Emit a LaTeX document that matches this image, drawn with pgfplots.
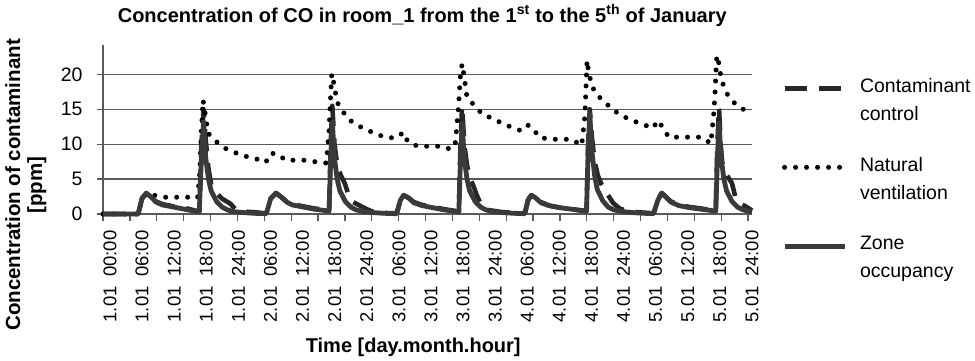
\documentclass[border=0pt]{standalone}
\usepackage{fontspec}
\setmainfont{Liberation Sans}
\usepackage{pgfplots}
\pgfplotsset{compat=1.18}
\definecolor{gridc}{HTML}{5A5A5A}
\definecolor{zonec}{HTML}{3A3A3A}
\definecolor{ctrlc}{HTML}{262626}
\newcommand{\tl}[2]{#1\hspace{9.5pt}#2}
\begin{document}
\begin{tikzpicture}
\useasboundingbox (0pt,0pt) rectangle (975pt,360pt);
\begin{axis}[
  at={(103pt,146pt)}, anchor=south west,
  scale only axis, width=649pt, height=169pt,
  xmin=0, xmax=120, ymin=0, ymax=24.2,
  enlargelimits=false, clip=false,
  axis lines=left, axis line style={gridc, line width=1.3pt, -},
  ytick={0,5,10,15,20}, ymajorgrids, grid style={gridc, line width=1.3pt},
  tick align=outside, major tick length=6pt, minor tick length=7pt,
  tick style={gridc, line width=1.3pt},
  major x tick style={draw=none},
  xtick={1.3,7.23,13.17,19.10,25.04,30.97,36.90,42.84,48.77,54.71,60.64,66.57,72.51,78.44,84.38,90.31,96.24,102.18,108.11,114.05,119.98},
  xticklabels={{\tl{1.01}{00:00}},{\tl{1.01}{06:00}},{\tl{1.01}{12:00}},{\tl{1.01}{18:00}},{\tl{1.01}{24:00}},
    {\tl{2.01}{06:00}},{\tl{2.01}{12:00}},{\tl{2.01}{18:00}},{\tl{2.01}{24:00}},
    {\tl{3.01}{06:00}},{\tl{3.01}{12:00}},{\tl{3.01}{18:00}},{\tl{3.01}{24:00}},
    {\tl{4.01}{06:00}},{\tl{4.01}{12:00}},{\tl{4.01}{18:00}},{\tl{4.01}{24:00}},
    {\tl{5.01}{06:00}},{\tl{5.01}{12:00}},{\tl{5.01}{18:00}},{\tl{5.01}{24:00}}},
  minor xtick={0,4.97,9.94,14.91,19.88,24.85,29.82,34.79,39.76,44.73,49.7,54.67,59.64,64.61,69.58,74.55,79.52,84.49,89.46,94.43,99.4,104.37,109.34,114.31,119.28},
  xticklabel style={rotate=90, anchor=east, font=\fontsize{18.5}{20}\selectfont},
  xticklabel shift=7pt,
  yticklabel style={font=\fontsize{19.5}{21}\selectfont, xshift=-11pt},
  /pgf/number format/assume math mode=true,
  title={Concentration of CO in room\_1 from the 1\textsuperscript{st} to the 5\textsuperscript{th} of January},
  title style={at={(axis description cs:0.492,1.14)}, anchor=center, font=\bfseries\fontsize{20}{22}\selectfont},
  ylabel={Concentration of contaminant\\{[ppm]}},
  ylabel style={at={(axis description cs:-0.119,0.172)}, anchor=center, align=center, font=\bfseries\fontsize{20.5}{22}\selectfont},
  xlabel={Time [day.month.hour]},
  xlabel style={at={(axis description cs:0.478,-0.79)}, anchor=center, font=\bfseries\fontsize{20}{22}\selectfont},
  legend style={at={(axis description cs:1.046,0.805)}, anchor=north west, draw=none, fill=none, inner sep=0pt,
    row sep=37pt, column sep=13pt,
    nodes={align=left, font=\fontsize{19.5}{28}\selectfont, inner sep=0pt, text depth=0pt}},
  legend cell align=left,
  legend image code/.code={\draw[#1] (0pt,11pt) -- (60pt,11pt);},
]
% Contaminant control
\addplot[ctrlc, line width=4.6pt, dash pattern=on 22pt off 12pt, line join=round] coordinates {
(0,0) (6.5,0) (7.2,2.2) (8,3.0) (8.8,2.5) (9.8,1.8) (11,1.4) (13,1.1) (15,0.9) (17,0.5) (17.8,0.35) (18.2,10) (18.6,15) (19,10.5) (19.5,6.5) (20,4.2) (21,3.0) (22,2.2) (23.5,1.5) (24.5,0.7) (26,0.35) (28,0.25) (30,0.1)
(30.2,0.1) (31,2.2) (32,3.0) (33,2.4) (34,1.8) (35,1.4) (37,1.1) (39,0.8) (41,0.6) (41.8,0.45) (42.1,10) (42.4,15.5) (42.8,10) (43.3,7) (44,5.5) (44.7,4.4) (45.3,3) (46,1.8) (47.5,1.2) (49,0.6) (50,0.3) (52,0.15) (54,0.1)
(54.3,0.1) (55,2.0) (55.6,2.7) (56.5,2.3) (57.5,1.7) (59,1.3) (61,1.0) (63,0.7) (65,0.45) (65.8,0.35) (66.1,10) (66.4,15.5) (66.8,10) (67.3,7) (67.8,5.3) (68.5,4) (69.1,2.7) (69.8,1.5) (71,0.6) (73.5,0.3) (76,0.15) (78,0.1)
(78.6,2.0) (79.2,2.7) (80,2.3) (81,1.7) (82.5,1.2) (84.5,0.9) (86.5,0.7) (88.5,0.5) (89.4,0.45) (89.7,10) (90,15) (90.4,11) (90.9,7.5) (91.5,5.5) (92.2,4.2) (92.8,3.4) (94.3,1.6) (95.5,0.8) (97,0.4) (99,0.25) (101.8,0.1)
(102.6,2.0) (103.3,3.0) (104,2.5) (105,1.8) (106.5,1.3) (108.5,1.0) (110.5,0.8) (112.5,0.55) (113.3,0.45) (113.6,10) (113.9,15.3) (114.2,10) (114.5,7.3) (115.4,5.5) (116.3,4.4) (116.9,2.5) (117.4,1.7) (119,1.0) (120,0.5)
};
\addlegendentry{Contaminant\\control}
% Natural ventilation
\addplot[black, line width=5pt, dash pattern=on 0pt off 11pt, line cap=round, line join=round] coordinates {
(0,0) (6.5,0) (7.3,2.2) (8,2.9) (9.3,2.7) (11.5,2.4) (13.6,2.4) (15.7,2.4) (17.5,2.3) (17.9,6) (18.2,12) (18.5,16.3) (18.8,14.9) (19.4,11.6) (20.9,10.4) (22.6,9.4) (24.4,8.8) (26.2,8.3) (28.3,7.9) (30.1,7.4) (31,8.7) (32.2,8.6) (33.8,7.7) (35.9,7.7) (37.7,7.7) (39.8,7.4) (41.3,7.3)
(41.8,12) (42.1,17) (42.3,20.1) (42.6,19.1) (43,17.3) (43.3,16) (44.4,14.6) (45.7,13.4) (47.3,12.6) (49.2,11.9) (51,11.3) (53,10.9) (54.5,11) (55.5,11.7) (56.4,10.3) (58.2,9.7) (60.3,9.7) (62.3,9.7) (64.3,9.3) (65.1,9.8)
(65.7,15) (66.1,20) (66.4,21.5) (66.7,20.1) (67,18.4) (67.3,16.7) (68.6,15.6) (70,14.4) (71.9,13.7) (73.8,13) (75.6,12.4) (77.4,11.9) (78.6,12.7) (79.5,12.3) (80.6,11) (82.6,10.7) (84.7,10.7) (86.7,10.7) (88.5,9.8)
(89.1,14) (89.5,22) (89.8,20.3) (90.3,18.7) (91,17.3) (92.8,16) (94.3,14.9) (95.9,14.1) (97.8,13.4) (99.6,12.9) (101.7,12.3) (102.6,13.4) (103.5,12.4) (104.6,11) (106.7,11) (108.7,11) (110.7,11) (112.4,10.1)
(113,15) (113.5,22.7) (113.9,21.5) (114.2,19.9) (114.6,18.7) (115.3,17.3) (116.6,16) (118.1,15.1) (119.2,14.7)
};
\addlegendentry{Natural\\ventilation}
% Zone occupancy
\addplot[zonec, line width=4.8pt, line join=round] coordinates {
(0,0) (6.5,0) (7.2,2.2) (8,3.0) (8.8,2.5) (9.8,1.7) (11,1.3) (13,1.0) (15,0.7) (17,0.4) (17.8,0.3) (18.2,8) (18.6,13.2) (19,8) (19.5,5) (20,3.3) (21,1.8) (22,1.0) (23,0.6) (24,0.35) (26,0.2) (28,0.1) (30,0.05)
(30.2,0.05) (31,2.2) (32,3.0) (33,2.4) (34,1.7) (35,1.3) (37,1.0) (39,0.7) (41,0.5) (41.8,0.4) (42.1,8) (42.4,13.2) (42.8,8) (43.3,5) (43.8,3.3) (44.8,1.8) (45.8,1.0) (46.8,0.6) (48,0.35) (50,0.2) (52,0.1) (54,0.05)
(54.3,0.05) (55,2.0) (55.6,2.7) (56.5,2.3) (57.5,1.6) (59,1.2) (61,0.9) (63,0.6) (65,0.4) (65.8,0.3) (66.1,8) (66.4,13) (66.8,8) (67.3,5) (67.8,3.3) (68.8,1.8) (69.8,1.0) (70.8,0.6) (72,0.35) (74,0.2) (76,0.1) (78,0.05)
(78.6,2.0) (79.2,2.7) (80,2.3) (81,1.6) (82.5,1.2) (84.5,0.9) (86.5,0.7) (88.5,0.5) (89.4,0.4) (89.7,9) (90,14.4) (90.4,9) (90.9,5.5) (91.4,3.5) (92.4,1.9) (93.4,1.0) (94.4,0.6) (96,0.35) (98,0.2) (100,0.1) (101.8,0.05)
(102.6,2.0) (103.3,3.0) (104,2.5) (105,1.7) (106.5,1.2) (108.5,0.9) (110.5,0.7) (112.5,0.5) (113.3,0.4) (113.6,8) (113.9,13) (114.3,8) (114.8,5) (115.3,3.3) (116.3,1.8) (117.3,1.0) (118.3,0.6) (120,0.3)
};
\addlegendentry{Zone\\occupancy}
\end{axis}
\end{tikzpicture}
\end{document}
